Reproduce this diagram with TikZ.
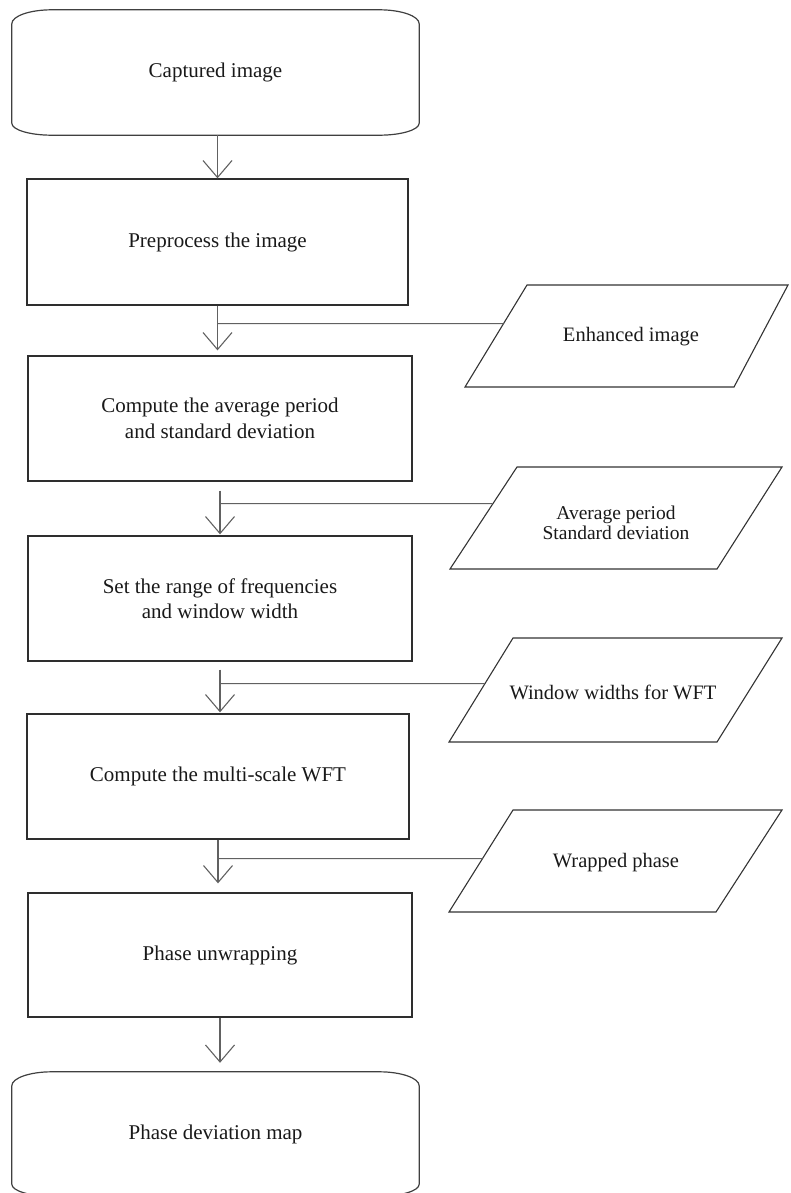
\documentclass[tikz,border=0pt]{standalone}
\usepackage{fontspec}
\setmainfont{Liberation Serif}
\usetikzlibrary{arrows.meta,calc}
\begin{document}
\begin{tikzpicture}[x=1pt,y=-1pt,
  box/.style={rectangle, draw=black!82, line width=1.3pt, inner sep=0pt, align=center,
    text=black!90, font=\fontsize{21}{25.5}\selectfont},
  term/.style={rectangle, draw=none, inner sep=0pt, align=center,
    text=black!90, font=\fontsize{21}{25.5}\selectfont},
  termline/.style={draw=black!75, line width=1.2pt},
  ptext/.style={inner sep=0pt, align=center, text=black!90,
    font=\fontsize{20.5}{22}\selectfont},
  ptexttwo/.style={inner sep=0pt, align=center, text=black!90,
    font=\fontsize{19.5}{20.5}\selectfont},
  para/.style={draw=black!80, line width=1.1pt, line join=miter},
  arr/.style={draw=black!62, line width=1.1pt, -{Straight Barb[length=17pt,width=29pt]}},
  branch/.style={draw=black!62, line width=1.1pt}
]
\useasboundingbox (0,0) rectangle (790,1193);
\clip (0,0) rectangle (790,1193);

% main column
\node[term, minimum width=407pt, minimum height=125pt] (T1) at (215.5,72.5) {Captured image};
\node[box, minimum width=381pt, minimum height=126pt] (B1) at (217.5,242) {Preprocess the image};
\node[box, minimum width=384pt, minimum height=125pt] (B2) at (220,418.5) {Compute the average period\\and standard deviation};
\node[box, minimum width=384pt, minimum height=125pt] (B3) at (220,598.5) {Set the range of frequencies\\and window width};
\node[box, minimum width=382pt, minimum height=125pt] (B4) at (218,776.5) {Compute the multi-scale WFT};
\node[box, minimum width=384pt, minimum height=124pt] (B5) at (220,955) {Phase unwrapping};
\node[term, minimum width=407pt, minimum height=124pt] (T2) at (215.5,1134) {Phase deviation map};

% terminal outlines
\foreach \t in {T1,T2}{
  \draw[termline] ([yshift=-14pt]\t.north west)
    arc[start angle=180,end angle=90,x radius=40pt,y radius=14pt]
    -- ([xshift=-40pt]\t.north east)
    arc[start angle=90,end angle=0,x radius=40pt,y radius=14pt]
    -- ([yshift=12pt]\t.south east)
    arc[start angle=0,end angle=-90,x radius=40pt,y radius=12pt]
    -- ([xshift=40pt]\t.south west)
    arc[start angle=270,end angle=180,x radius=40pt,y radius=12pt]
    -- cycle;
}

% data parallelograms
\coordinate (P1bl) at (465,387); \coordinate (P1br) at (734,387);
\coordinate (P1tr) at (788,285); \coordinate (P1tl) at (527,285);
\coordinate (P2bl) at (450,569); \coordinate (P2br) at (717,569);
\coordinate (P2tr) at (782,467); \coordinate (P2tl) at (517,467);
\coordinate (P3bl) at (449,742); \coordinate (P3br) at (717,742);
\coordinate (P3tr) at (782,638); \coordinate (P3tl) at (513,638);
\coordinate (P4bl) at (449,912); \coordinate (P4br) at (716,912);
\coordinate (P4tr) at (782,810); \coordinate (P4tl) at (513,810);
\foreach \p in {P1,P2,P3,P4}{
  \draw[para] (\p bl) -- (\p br) -- (\p tr) -- (\p tl) -- cycle;
}
\node[ptext] (P1) at (631,337) {Enhanced image};
\node[ptexttwo] (P2) at (616,523) {Average period\\Standard deviation};
\node[ptext] (P3) at (613,692) {Window widths for WFT};
\node[ptext] (P4) at (616,863) {Wrapped phase};

% main flow arrows
\draw[arr] (B1.north |- T1.south) -- (B1.north);
\draw[arr, shorten >=5pt] (B1.south) -- (B1.south |- B2.north);
\draw[arr, shorten <=9pt, shorten >=1pt] (B2.south) -- (B2.south |- B3.north);
\draw[arr, shorten <=8pt, shorten >=1pt] (B3.south) -- (B3.south |- B4.north);
\draw[arr, shorten >=9pt] (B4.south) -- (B4.south |- B5.north);
\draw[arr, shorten >=9pt] (B5.south) -- (B5.south |- T2.north);

% junctions and branch lines to the data
\coordinate (J1) at ([yshift=-18pt]B1.south);
\coordinate (J2) at ([yshift=-22pt]B2.south);
\coordinate (J3) at ([yshift=-22pt]B3.south);
\coordinate (J4) at ([yshift=-19pt]B4.south);
\foreach \i in {1,2,3,4}{
  \coordinate (J\i r) at ([xshift=100pt]J\i);
  \draw[branch] (J\i) -- (intersection of J\i--J\i r and P\i bl--P\i tl);
}
\end{tikzpicture}
\end{document}
